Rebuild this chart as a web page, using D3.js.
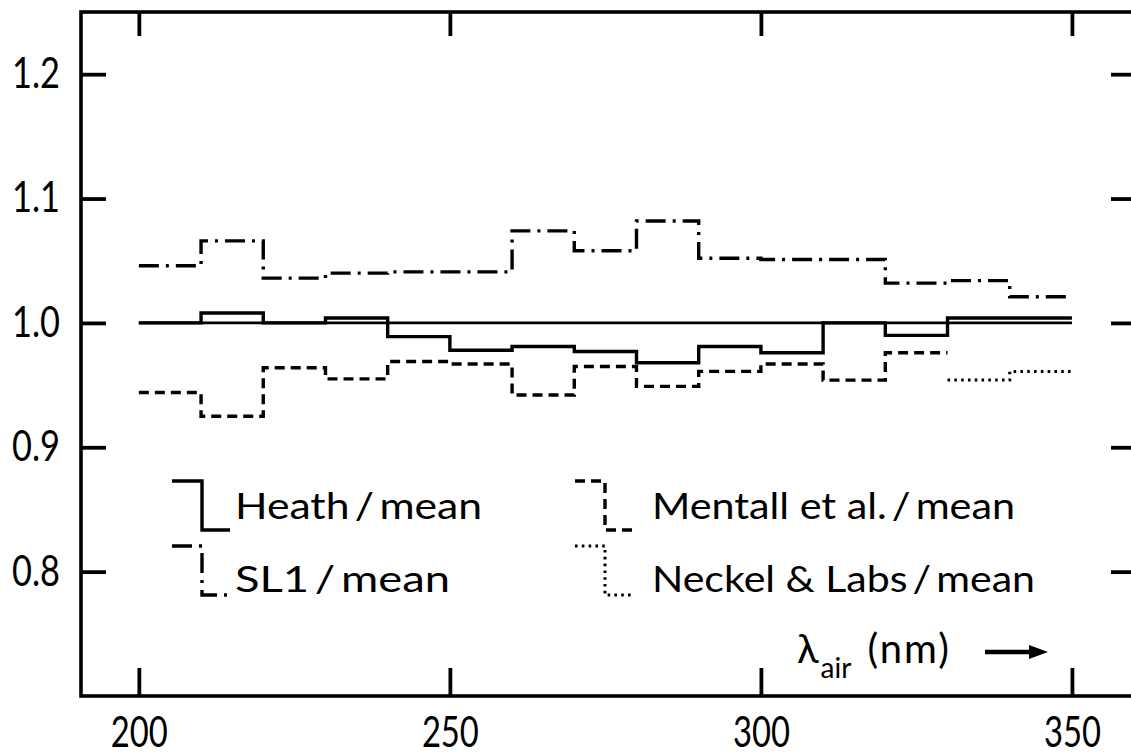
<!DOCTYPE html>
<html>
<head>
<meta charset="utf-8">
<script src="https://cdn.jsdelivr.net/npm/d3@7"></script>
<style>
  html, body { margin: 0; padding: 0; background: #fff; }
  svg { display: block; }
  text { font-family: "Lato", "Liberation Sans", sans-serif; fill: #000; }
</style>
</head>
<body>
<svg id="chart" width="1131" height="756"></svg>
<script>
// bin edges (nm), 10 nm steps
const edges = [200, 210, 220, 230, 240, 250, 260, 270, 280, 290, 300, 310, 320, 330, 340, 350];

// ratios per 10 nm bin
const heath   = [1.000, 1.008, 1.000, 1.004, 0.989, 0.978, 0.981, 0.977, 0.968, 0.981, 0.976, 1.000, 0.990, 1.004, 1.004];
const sl1     = [1.046, 1.066, 1.036, 1.040, 1.041, 1.041, 1.074, 1.058, 1.082, 1.052, 1.051, 1.051, 1.032, 1.034, 1.021];
const mentall = [0.944, 0.925, 0.964, 0.955, 0.969, 0.967, 0.942, 0.965, 0.949, 0.961, 0.967, 0.954, 0.976];
const neckel  = [0.954, 0.961]; // 330-350 only
const meanRef = [1.000];         // 200-350

const xTicks = [200, 250, 300, 350];
const yTicks = [0.8, 0.9, 1.0, 1.1, 1.2];
const yTickLabels = ['0.8', '0.9', '1.0', '1.1', '1.2'];

const legendLabels = ['Heath\u2009/\u2009mean', 'SL1\u2009/\u2009mean', 'Mentall et al.\u2009/\u2009mean', 'Neckel & Labs\u2009/\u2009mean'];

// Layout
const frame = { left: 81, right: 1136, top: 12, bottom: 696 };

const svg = d3.select('#chart');

const x = d3.scaleLinear().domain([190.7, 360.3]).range([frame.left, frame.right]);
const y = d3.scaleLinear().domain([0.7, 1.25]).range([frame.bottom, frame.top]);

// series: values, start edge, dash style
const series = [
  { name: 'mean',    vals: meanRef, start: 200, end: 350, dash: null,        width: 2.8 },
  { name: 'heath',   vals: heath,   start: 200, dash: null,                  width: 3.4 },
  { name: 'sl1',     vals: sl1,     start: 200, dash: '20 7 3 7',            width: 3.4 },
  { name: 'mentall', vals: mentall, start: 200, dash: '10 6',                width: 3.4 },
  { name: 'neckel',  vals: neckel,  start: 330, dash: '2.6 4.2',             width: 3 }
];

function stepPoints(s) {
  if (s.end !== undefined) {
    return [{ w: s.start, v: s.vals[0] }, { w: s.end, v: s.vals[0] }];
  }
  const i0 = edges.indexOf(s.start);
  const pts = s.vals.map((v, i) => ({ w: edges[i0 + i], v }));
  pts.push({ w: edges[i0 + s.vals.length], v: s.vals[s.vals.length - 1] });
  return pts;
}

const line = d3.line()
  .x(d => x(d.w))
  .y(d => y(d.v))
  .curve(d3.curveStepAfter);

svg.append('g').attr('class', 'series')
  .selectAll('path')
  .data(series)
  .join('path')
    .attr('d', d => line(stepPoints(d)))
    .attr('fill', 'none')
    .attr('stroke', '#000')
    .attr('stroke-width', d => d.width)
    .attr('stroke-dasharray', d => d.dash)
    .attr('stroke-linejoin', 'miter');

// Axes (ticks point inward)
const fontSize = 42;

const gx = svg.append('g')
  .attr('transform', `translate(0,${frame.bottom})`)
  .call(d3.axisBottom(x).tickValues(xTicks).tickSizeInner(-28).tickSizeOuter(0).tickPadding(21));

const gy = svg.append('g')
  .attr('transform', `translate(${frame.left},0)`)
  .call(d3.axisLeft(y).tickValues(yTicks).tickSizeInner(-25).tickSizeOuter(0).tickPadding(21)
    .tickFormat((d, i) => yTickLabels[i]));

const gt = svg.append('g')
  .attr('transform', `translate(0,${frame.top})`)
  .call(d3.axisTop(x).tickValues(xTicks).tickSizeInner(-24).tickSizeOuter(0).tickFormat(''));

const gr = svg.append('g')
  .attr('transform', `translate(${frame.right},0)`)
  .call(d3.axisRight(y).tickValues(yTicks).tickSizeInner(-25).tickSizeOuter(0).tickFormat(''));

[gx, gy, gt, gr].forEach(g => {
  g.select('.domain').remove();
  g.selectAll('line').attr('stroke', '#000').attr('stroke-width', 3.8);
  g.selectAll('text')
    .attr('fill', '#000')
    .style('font-family', '"Lato", "Liberation Sans", sans-serif')
    .style('font-size', fontSize + 'px');
});
gx.selectAll('text').attr('textLength', 57).attr('lengthAdjust', 'spacingAndGlyphs');
gy.selectAll('text').attr('textLength', 48).attr('lengthAdjust', 'spacingAndGlyphs');

// Frame
svg.append('rect')
  .attr('x', frame.left).attr('y', frame.top)
  .attr('width', frame.right - frame.left).attr('height', frame.bottom - frame.top)
  .attr('fill', 'none').attr('stroke', '#000').attr('stroke-width', 3.6);

// Legend
const legendCols = [172, 575];
const legendTextX = [235, 652];
const legendTop = [481, 546];
const legendBase = [519, 592];
const legendWidths = [247, 215, 363, 383];
const legendStyle = [series[1], series[2], series[3], series[4]];

const leg = svg.append('g').attr('class', 'legend')
  .selectAll('g')
  .data(legendLabels)
  .join('g');

leg.each(function(label, i) {
  const col = i < 2 ? 0 : 1;
  const row = i % 2;
  const g = d3.select(this);
  const x0 = legendCols[col];
  const sym = [[x0, legendTop[row]], [x0 + 30, legendTop[row]], [x0 + 30, legendTop[row] + 49], [x0 + 58, legendTop[row] + 49]];
  g.append('path')
    .attr('d', d3.line()(sym))
    .attr('fill', 'none')
    .attr('stroke', '#000')
    .attr('stroke-width', legendStyle[i].width)
    .attr('stroke-dasharray', legendStyle[i].dash);
  g.append('text')
    .attr('x', legendTextX[col])
    .attr('y', legendBase[row])
    .attr('textLength', legendWidths[i])
    .attr('lengthAdjust', 'spacingAndGlyphs')
    .style('font-size', '37px')
    .text(label);
});

// Axis title: lambda_air (nm) with arrow
const title = svg.append('text')
  .attr('x', 797)
  .attr('y', 663)
  .style('font-size', '40px');
title.append('tspan').text('λ');
title.append('tspan').attr('dy', 15).attr('dx', 2).style('font-size', '28px').text('air');
title.append('tspan').attr('dy', -15).attr('dx', 16).style('letter-spacing', '2px').text('(nm)');

svg.append('line')
  .attr('x1', 985).attr('x2', 1034)
  .attr('y1', 652).attr('y2', 652)
  .attr('stroke', '#000').attr('stroke-width', 4.5);
svg.append('path')
  .attr('d', d3.line()([[1029, 645], [1048, 652], [1029, 659]]))
  .attr('fill', '#000');
</script>
</body>
</html>
